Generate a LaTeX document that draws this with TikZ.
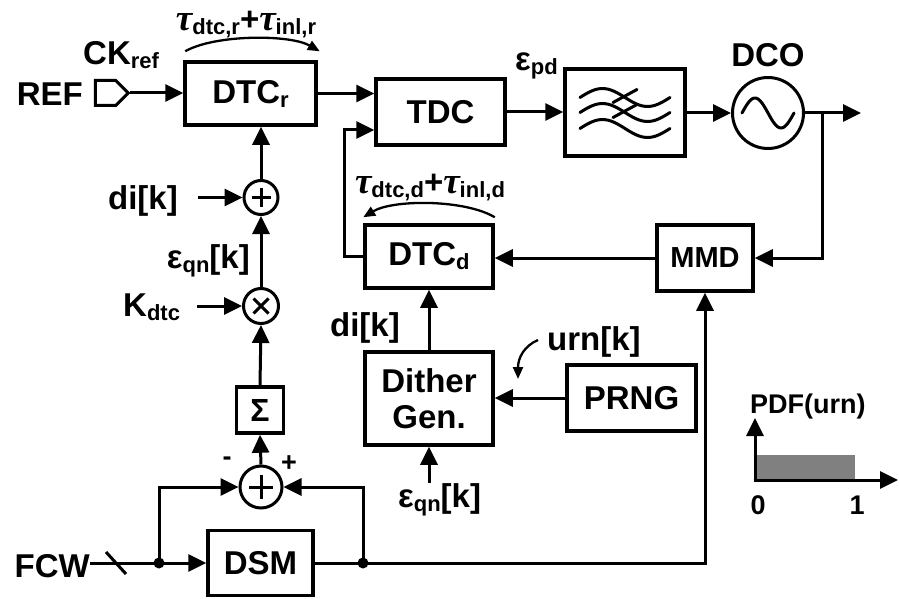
\documentclass[tikz,border=0pt]{standalone}
\usepackage{fontspec}
\setmainfont{Liberation Sans}
\newfontfamily\taufont{Liberation Serif}
\usepackage{tikz}
\usetikzlibrary{arrows.meta, positioning, shapes.symbols}
\newcommand{\sub}[1]{\raisebox{-4pt}{\fontsize{22}{22}\selectfont #1}}
\newcommand{\tsym}{{\taufont\fontsize{37}{37}\selectfont\bfseries\itshape τ}}

\begin{document}
\begin{tikzpicture}[
        x=1pt, y=-1pt,
        >={Triangle[length=18pt,width=17pt]},
        block/.style={draw, line width=3.5pt, align=center, inner sep=0pt, font=\fontsize{33}{36}\selectfont\bfseries},
        junction/.style={draw, circle, line width=3pt, inner sep=0pt},
        lbl/.style={inner sep=0pt, font=\fontsize{33}{36}\selectfont\bfseries},
        small/.style={inner sep=0pt, font=\fontsize{27}{30}\selectfont\bfseries},
        wire/.style={line width=3pt},
        flow/.style={->, line width=3pt},
        delay/.style={-{Triangle[length=12pt,width=10pt]}, line width=2.3pt}
    ]
        \useasboundingbox (0,0) rectangle (899,599);

        % forward path
        \node[draw, signal, signal to=east, line width=3pt, minimum width=33pt, minimum height=25pt, inner sep=0pt] (ref) at (105.5,93) {};
        \node[block, minimum width=131pt, minimum height=63pt] (dtcr) at (250.5,93.5) {DTC\sub{r}};
        \node[block, minimum width=129pt, minimum height=66pt] (tdc) at (440.5,112) {TDC};
        \node[block, minimum width=120pt, minimum height=87pt] (lpf) at (625,112.5) {};
        \node[junction, minimum size=71pt] (dco) at (768,113) {};

        % feedback path
        \node[block, minimum width=96pt, minimum height=66pt, font=\fontsize{29}{32}\selectfont\bfseries] (mmd) at (705,258) {MMD};
        \node[block, minimum width=128pt, minimum height=63pt] (dtcd) at (429,256.5) {DTC\sub{d}};
        \node[block, minimum width=128pt, minimum height=93pt] (dither) at (429,398.5) {Dither\\Gen.};
        \node[block, minimum width=129pt, minimum height=66pt] (prng) at (631.5,398) {PRNG};

        % quantization error path
        \node[block, minimum width=105pt, minimum height=65pt] (dsm) at (260.5,563) {DSM};
        \node[block, minimum width=47pt, minimum height=46pt, font=\fontsize{32}{32}\selectfont\bfseries] (sigma) at (260,410) {Σ};
        \node[junction, minimum size=34pt] (addr) at (261,197.5) {};
        \node[junction, minimum size=35pt] (mul) at (261,306) {};
        \node[junction, minimum size=42pt] (addq) at (261,487) {};

        % symbols inside
        \draw[wire] (addr.center) ++(-9.5,0) -- ++(19,0) (addr.center) ++(0,-9.5) -- ++(0,19);
        \draw[wire] (mul.center) ++(-7.5,-7.5) -- ++(15,15) (mul.center) ++(-7.5,7.5) -- ++(15,-15);
        \draw[wire] (addq.center) ++(-12,0) -- ++(24,0) (addq.center) ++(0,-12) -- ++(0,24);
        \draw[line width=3pt, line cap=round, shift={(dco.center)}] plot[domain=-26:26, samples=40, smooth] (\x, {-15*sin(180*(\x+26)/26)});
        \foreach \dy in {-15,0,16}
            \draw[line width=3pt, line cap=round, shift={(lpf.center)}] plot[domain=-45:45, samples=30, smooth] (\x, {\dy-9*sin(180*(\x+45)/45)});
        \draw[line width=3pt, line cap=round, shift={(lpf.center)}] (-12,-10) -- (12,-23) (-12,5) -- (12,-8);

        % labels
        \node[lbl, anchor=base east] (reftxt) at (83,106) {REF};
        \node[lbl, anchor=base west] (ck) at (83,65) {CK\sub{ref}};
        \node[lbl, anchor=base] (taur) at (246,31) {\tsym\sub{dtc,r}+\tsym\sub{inl,r}};
        \node[lbl, anchor=base west] (epd) at (515,71) {ε\sub{pd}};
        \node[lbl, anchor=base] (dcotxt) at (768,67) {DCO};
        \node[lbl, anchor=base] (taud) at (430,193) {\tsym\sub{dtc,d}+\tsym\sub{inl,d}};
        \node[lbl, anchor=base east] (didtc) at (400,336) {di[k]};
        \node[lbl, anchor=base west] (urn) at (547,350) {urn[k]};
        \node[lbl, anchor=base west] (eqd) at (398,507) {ε\sub{qn}[k]};
        \node[lbl, anchor=base east] (dir) at (178,209) {di[k]};
        \node[lbl, anchor=base east] (eqr) at (250,268) {ε\sub{qn}[k]};
        \node[lbl, anchor=base west] (kdtc) at (123,316) {K\sub{dtc}};
        \node[lbl, anchor=base east] (fcw) at (90,577) {FCW};
        \node[small] (minus) at (227,461) {-};
        \node[small] (plus) at (289,464) {+};

        % connections
        \coordinate (out) at (861,113);
        \coordinate (tap) at (822,113);
        \coordinate (fb) at (344,130);
        \coordinate (distart) at (198,197.5);
        \coordinate (kstart) at (197,306);
        \coordinate (eqstart) at (429,483);
        \coordinate (urnfrom) at (538,340);
        \coordinate (urnto) at (518,379);
        \coordinate (slash) at (116,563);
        \coordinate (fork1) at (159,563);
        \coordinate (fork2) at (363,563);

        \draw[flow] (ref.east) -- (ref.east -| dtcr.west);
        \draw[flow] (dtcr.east) -- (dtcr.east -| tdc.west);
        \draw[flow] (tdc.east) -- (tdc.east -| lpf.west);
        \draw[flow] (lpf.east |- dco.west) -- (dco.west);
        \draw[flow] (dco.east) -- (out);
        \draw[flow] (tap) |- (mmd.east);
        \draw[flow] (mmd.west) -- (mmd.west -| dtcd.east);
        \draw[flow] (dtcd.west) -| (fb) -- (fb -| tdc.west);
        \draw[flow] (dither.north) -- (dtcd.south);
        \draw[flow] (prng.west) -- (prng.west -| dither.east);
        \draw[flow] (eqstart) -- (dither.south);
        \draw[delay] (urnfrom) .. controls (524,346) and (518,358) .. (urnto);

        \draw[flow] (addr.north) -- (addr.north |- dtcr.south);
        \draw[flow] (mul.north) -- (addr.south);
        \draw[flow] (sigma.north) -- (mul.south);
        \draw[flow] (addq.north) -- (sigma.south);
        \draw[flow] (distart) -- (addr.west);
        \draw[flow] (kstart) -- (mul.west);

        \draw[flow] (fcw.east |- dsm.west) -- (dsm.west);
        \draw[wire] ([shift={(-10,-11)}]slash) -- ([shift={(10,11)}]slash);
        \draw[flow] (fork1) |- (addq.west);
        \draw[flow] (dsm.east) -| (mmd.south);
        \draw[flow] (fork2) |- (addq.east);
        \fill (fork1) circle[radius=5.5pt];
        \fill (fork2) circle[radius=5.5pt];

        % delay arcs
        \draw[delay] ([shift={(2,-9)}]dtcr.north west) .. controls +(30,-17) and +(-30,-17) .. ([shift={(2,-9)}]dtcr.north east);
        \draw[delay] ([shift={(0,-6)}]dtcd.north east) .. controls +(-30,-18) and +(30,-18) .. ([shift={(0,-6)}]dtcd.north west);

        % pdf of urn
        \coordinate (origin) at (755,480);
        \coordinate (xend) at (898,480);
        \coordinate (yend) at (755,418);
        \fill[black!50] (origin) rectangle (855,455);
        \draw[flow] ([xshift=-1.5pt]origin) -- (xend);
        \draw[flow] ([yshift=-1.5pt]origin) -- (yend);
        \node[small, anchor=base west] (pdf) at (750,413) {PDF(urn)};
        \node[small, anchor=base] (zero) at (758,514) {0};
        \node[small, anchor=base] (one) at (857,514) {1};
    \end{tikzpicture}
\end{document}
